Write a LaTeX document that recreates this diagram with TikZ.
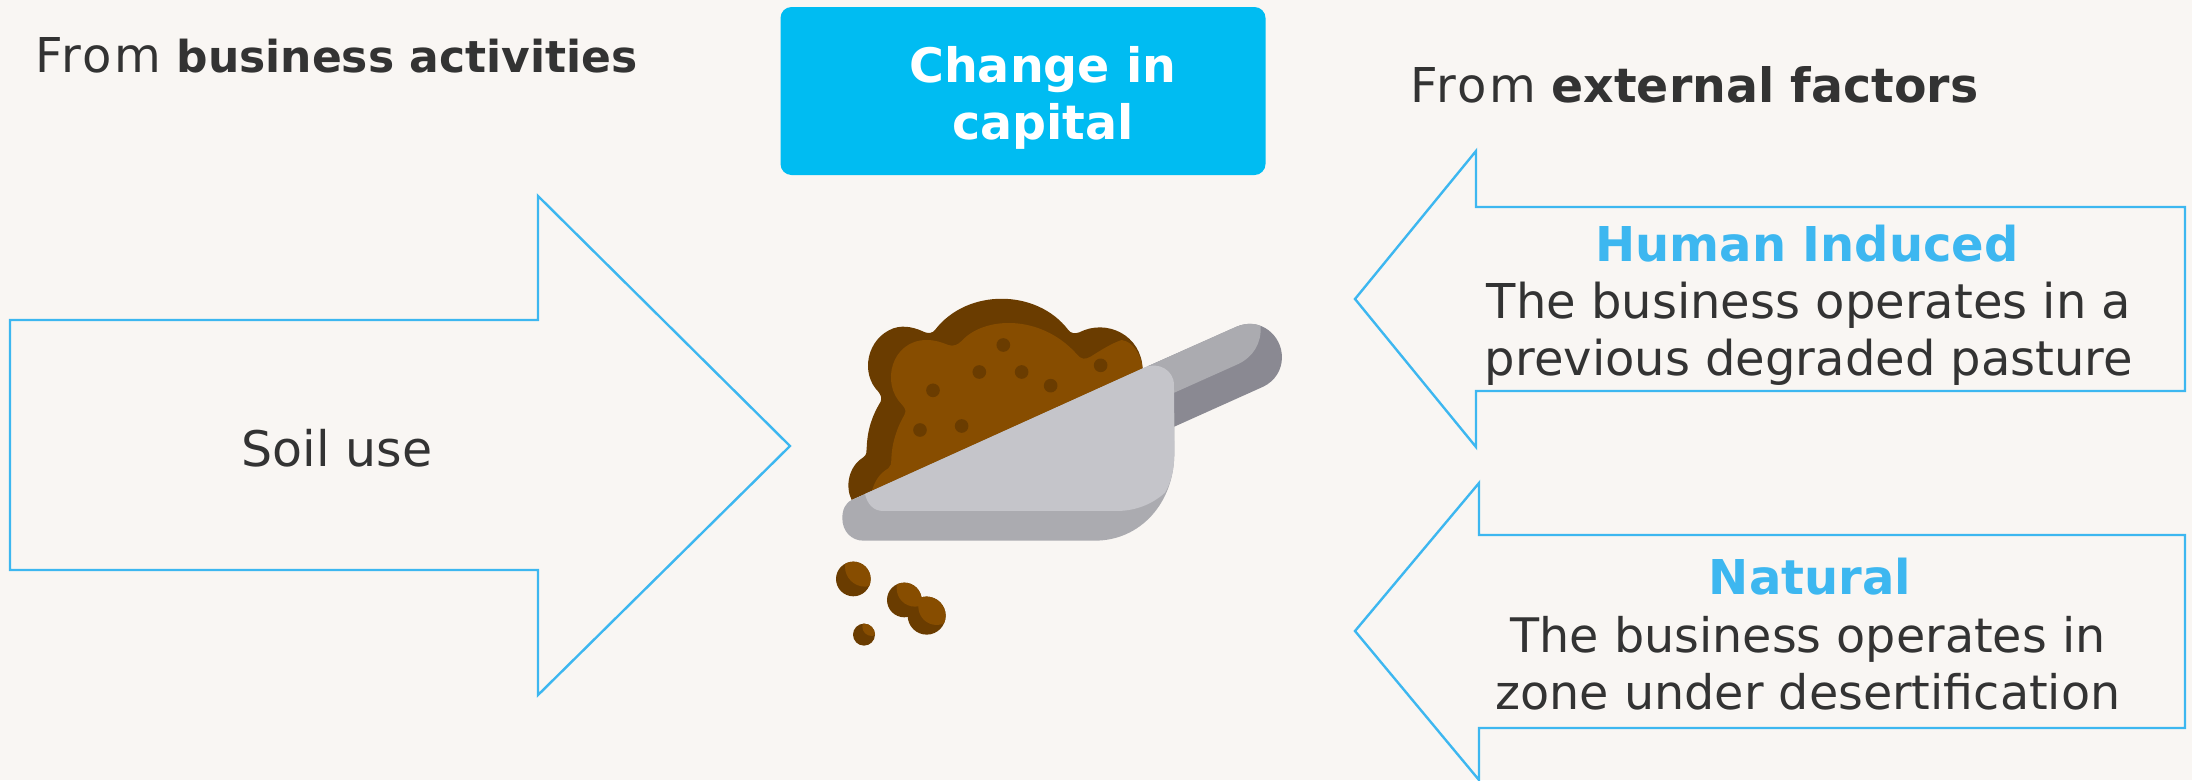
\documentclass[tikz,border=0pt]{standalone}
\usepackage{fontspec}
\setmainfont{DejaVu Sans}
\newfontfamily\spaced[LetterSpace=5]{DejaVu Sans}
\definecolor{bgc}{HTML}{F9F6F3}
\definecolor{linec}{HTML}{3DB7F0}
\definecolor{boxc}{HTML}{00BCF2}
\definecolor{textc}{HTML}{333333}
\definecolor{soild}{HTML}{6A3C00}
\definecolor{soill}{HTML}{874D00}
\definecolor{scl}{HTML}{C5C5CA}
\definecolor{scm}{HTML}{ABABB0}
\definecolor{scd}{HTML}{8A8992}
\tikzset{
  arrowshape/.style={draw=linec,line width=2.4pt,line join=miter,fill=none},
  txt/.style={text=textc,font=\fontsize{48}{57}\selectfont,inner sep=0pt,align=center},
  head/.style={text=linec,font=\fontsize{48}{57}\selectfont\bfseries,inner sep=0pt,align=center},
  grain/.style={fill=soild,draw=none}
}
\begin{document}
\begin{tikzpicture}[x=1pt,y=-1pt]
\useasboundingbox (0,0) rectangle (2192,780);
\fill[bgc] (0,0) rectangle (2192,780);
% arrows
\draw[arrowshape] (10,320)--(538,320)--(538,196)--(790,446)--(538,695)--(538,570)--(10,570)--cycle;
\draw[arrowshape] (1355,299)--(1476,151)--(1476,207)--(2185,207)--(2185,391)--(1476,391)--(1476,447)--cycle;
\draw[arrowshape] (1355,631)--(1479,483)--(1479,535)--(2185,535)--(2185,728)--(1479,728)--(1479,780)--cycle;
% box
\node[fill=boxc,rounded corners=11pt,minimum width=485pt,minimum height=168pt,inner sep=0pt] (change) at (1023,91) {};
\node[inner sep=0pt,text=white,align=center,font=\fontsize{47.5}{57}\selectfont\bfseries] (changet) at (1043,98) {Change in\\capital};
% labels
\node[txt,anchor=base west] (biz) at (35,72) {{\spaced From} {\fontsize{44}{57}\selectfont\bfseries business activities}};
\node[txt,anchor=base west] (ext) at (1410,102) {{\spaced From} {\fontsize{47.4}{57}\selectfont\bfseries external factors}};
\node[txt,font=\fontsize{49}{57}\selectfont] (soil) at (337,448) {Soil use};
\node[head] (human) at (1807,244) {Human Induced};
\node[txt] (humant) at (1809,334) {The business operates in a\\previous degraded pasture};
\node[head] (natural) at (1810,577) {Natural};
\node[txt,font=\fontsize{47.6}{57}\selectfont] (naturalt) at (1808,663) {The business operates in\\zone under desertification};
% scoop icon
\begin{scope}[shift={(820,280)},x=0.3333pt,y=-0.3333pt]
% handle
\fill[scd] (985,258)--(1250,140) .. controls (1320,110) and (1386,165) .. (1386,232) .. controls (1386,270) and (1365,303) .. (1330,320)--(1063,440)--(1000,440)--cycle;
\fill[scm] (985,258)--(1250,140) .. controls (1275,130) and (1300,128) .. (1322,138) .. controls (1325,190) and (1300,230) .. (1255,252)--(1063,338)--(1000,340)--cycle;
% soil
\fill[soild] (95,660) .. controls (75,620) and (85,560) .. (130,532) .. controls (140,525) and (140,515) .. (140,505) .. controls (142,450) and (155,410) .. (182,365) .. controls (186,355) and (183,345) .. (175,335) .. controls (120,280) and (140,175) .. (220,145) .. controls (255,133) and (290,145) .. (315,157) .. controls (325,160) and (338,160) .. (345,150) .. controls (440,25) and (650,25) .. (745,150) .. controls (752,160) and (765,162) .. (778,157) .. controls (860,115) and (965,165) .. (968,268)--cycle;
\fill[soill] (155,635) .. controls (165,600) and (180,580) .. (205,565) .. controls (213,558) and (214,550) .. (214,540) .. controls (215,490) and (230,445) .. (253,405) .. controls (260,392) and (255,385) .. (247,375) .. controls (180,310) and (215,180) .. (320,180) .. controls (345,180) and (365,187) .. (385,195) .. controls (400,200) and (412,195) .. (425,183) .. controls (490,110) and (660,100) .. (770,222) .. controls (782,238) and (795,240) .. (812,230) .. controls (840,212) and (875,190) .. (905,180) .. controls (940,185) and (965,225) .. (968,268)--cycle;
\foreach \p in {(550,195),(478,276),(605,276),(692,317),(339,331),(842,256),(425,438),(300,450)}
  \fill[grain] \p circle (20.5);
% body
\fill[scm] (95,660) .. controls (75,670) and (67,690) .. (67,715) .. controls (67,755) and (95,782) .. (130,782)--(825,782) .. controls (960,782) and (1063,670) .. (1063,520)--(1063,400)--(985,258)--cycle;
\fill[scl] (135,642)--(975,262) .. controls (1015,245) and (1062,270) .. (1062,315)--(1063,520) .. controls (1063,570) and (1052,610) .. (1035,638) .. controls (1000,670) and (950,693) .. (890,693)--(190,693) .. controls (160,693) and (142,672) .. (135,642)--cycle;
% crumbs
\fill[soild] (100,897) circle (52);
\begin{scope}
\clip (100,897) circle (52);
\fill[soill] (135,860) circle (60);
\end{scope}
\fill[soild] (253,960) circle (52);
\fill[soild] (320,1007) circle (57);
\begin{scope}
\clip (253,960) circle (52) (320,1007) circle (57);
\fill[soill] (285,925) circle (55);
\fill[soill] (350,980) circle (55);
\end{scope}
\fill[soild] (132,1064) circle (33);
\begin{scope}
\clip (132,1064) circle (33);
\fill[soill] (155,1040) circle (28);
\end{scope}
\end{scope}
\end{tikzpicture}
\end{document}
